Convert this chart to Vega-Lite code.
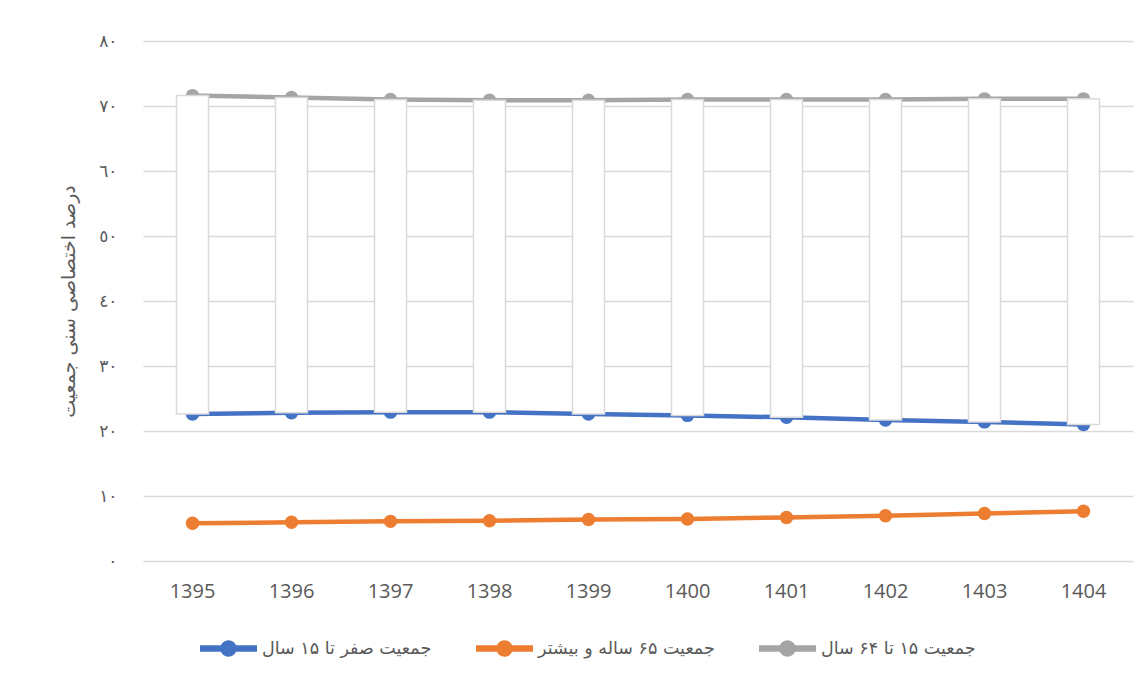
{
  "$schema": "https://vega.github.io/schema/vega-lite/v6.json",
  "width": 990,
  "height": 520,
  "autosize": {"type": "none"},
  "padding": {"left": 143, "top": 41, "right": 15, "bottom": 118},
  "background": "#ffffff",
  "config": {
    "view": {"stroke": null},
    "font": "DejaVu Sans",
    "axis": {"labelColor": "#595959", "titleColor": "#595959", "gridColor": "#d9d9d9", "gridWidth": 1.3, "domain": false, "ticks": false},
    "legend": {"labelColor": "#595959"}
  },
  "data": {
    "values": [
      {"year": "1395", "series": "جمعیت صفر تا ۱۵ سال", "value": 22.6},
      {"year": "1396", "series": "جمعیت صفر تا ۱۵ سال", "value": 22.8},
      {"year": "1397", "series": "جمعیت صفر تا ۱۵ سال", "value": 22.9},
      {"year": "1398", "series": "جمعیت صفر تا ۱۵ سال", "value": 22.9},
      {"year": "1399", "series": "جمعیت صفر تا ۱۵ سال", "value": 22.6},
      {"year": "1400", "series": "جمعیت صفر تا ۱۵ سال", "value": 22.4},
      {"year": "1401", "series": "جمعیت صفر تا ۱۵ سال", "value": 22.1},
      {"year": "1402", "series": "جمعیت صفر تا ۱۵ سال", "value": 21.7},
      {"year": "1403", "series": "جمعیت صفر تا ۱۵ سال", "value": 21.4},
      {"year": "1404", "series": "جمعیت صفر تا ۱۵ سال", "value": 21.0},
      {"year": "1395", "series": "جمعیت ۶۵ ساله و بیشتر", "value": 5.8},
      {"year": "1396", "series": "جمعیت ۶۵ ساله و بیشتر", "value": 5.95},
      {"year": "1397", "series": "جمعیت ۶۵ ساله و بیشتر", "value": 6.1},
      {"year": "1398", "series": "جمعیت ۶۵ ساله و بیشتر", "value": 6.2},
      {"year": "1399", "series": "جمعیت ۶۵ ساله و بیشتر", "value": 6.4},
      {"year": "1400", "series": "جمعیت ۶۵ ساله و بیشتر", "value": 6.45},
      {"year": "1401", "series": "جمعیت ۶۵ ساله و بیشتر", "value": 6.7},
      {"year": "1402", "series": "جمعیت ۶۵ ساله و بیشتر", "value": 6.95},
      {"year": "1403", "series": "جمعیت ۶۵ ساله و بیشتر", "value": 7.3},
      {"year": "1404", "series": "جمعیت ۶۵ ساله و بیشتر", "value": 7.65},
      {"year": "1395", "series": "جمعیت ۱۵ تا ۶۴ سال", "value": 71.6},
      {"year": "1396", "series": "جمعیت ۱۵ تا ۶۴ سال", "value": 71.3},
      {"year": "1397", "series": "جمعیت ۱۵ تا ۶۴ سال", "value": 71.0},
      {"year": "1398", "series": "جمعیت ۱۵ تا ۶۴ سال", "value": 70.9},
      {"year": "1399", "series": "جمعیت ۱۵ تا ۶۴ سال", "value": 70.9},
      {"year": "1400", "series": "جمعیت ۱۵ تا ۶۴ سال", "value": 71.0},
      {"year": "1401", "series": "جمعیت ۱۵ تا ۶۴ سال", "value": 71.0},
      {"year": "1402", "series": "جمعیت ۱۵ تا ۶۴ سال", "value": 71.0},
      {"year": "1403", "series": "جمعیت ۱۵ تا ۶۴ سال", "value": 71.1},
      {"year": "1404", "series": "جمعیت ۱۵ تا ۶۴ سال", "value": 71.1}
    ]
  },
  "encoding": {
    "x": {
      "field": "year", "type": "ordinal",
      "scale": {"type": "band", "paddingInner": 0, "paddingOuter": 0},
      "axis": {"title": null, "labelAngle": 0, "labelFont": "Open Sans", "labelFontSize": 20, "labelPadding": 20, "grid": false}
    },
    "color": {
      "field": "series", "type": "nominal",
      "scale": {"domain": ["جمعیت صفر تا ۱۵ سال", "جمعیت ۶۵ ساله و بیشتر", "جمعیت ۱۵ تا ۶۴ سال"], "range": ["#4472c4", "#ed7d31", "#a5a5a5"]},
      "legend": {
        "title": null, "orient": "none", "direction": "horizontal",
        "legendX": 57, "legendY": 579,
        "symbolType": "M-1,-0.11H1V0.11H-1Z M-0.29,0A0.29,0.29 0 1,1 0.29,0A0.29,0.29 0 1,1 -0.29,0Z",
        "symbolSize": 3249, "symbolStrokeWidth": 0, "symbolOpacity": 1,
        "labelFontSize": 17.5, "labelOffset": 5, "labelLimit": 400, "columnPadding": 44, "padding": 0
      }
    }
  },
  "layer": [
    {
      "mark": {"type": "line", "strokeWidth": 4.5, "strokeCap": "round", "strokeJoin": "round"},
      "encoding": {
        "y": {
          "field": "value", "type": "quantitative",
          "scale": {"domain": [0, 80], "nice": false},
          "axis": {
            "values": [0, 10, 20, 30, 40, 50, 60, 70, 80],
            "labelExpr": "['٠','١٠','٢٠','٣٠','٤٠','٥٠','٦٠','٧٠','٨٠'][round(datum.value/10)]",
            "labelFontSize": 17, "labelPadding": 26,
            "title": "درصد اختصاصی سنی جمعیت", "titleFontSize": 19, "titleFontWeight": "normal", "titlePadding": 20
          }
        }
      }
    },
    {
      "mark": {"type": "point", "filled": true, "opacity": 1, "size": 180},
      "encoding": {
        "y": {"field": "value", "type": "quantitative"}
      }
    },
    {
      "transform": [{"pivot": "series", "value": "value", "groupby": ["year"]}],
      "mark": {"type": "bar", "width": 32, "fill": "#ffffff", "stroke": "#d9d9d9", "strokeWidth": 1.5},
      "encoding": {
        "y": {"field": "جمعیت ۱۵ تا ۶۴ سال", "type": "quantitative"},
        "y2": {"field": "جمعیت صفر تا ۱۵ سال"},
        "color": {"value": null}
      }
    }
  ]
}
